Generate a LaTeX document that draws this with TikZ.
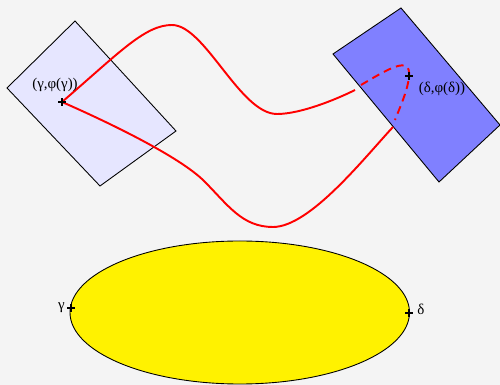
\documentclass[tikz,border=0pt]{standalone}
\usepackage{fontspec}
\setmainfont{Liberation Serif}
\definecolor{paper}{HTML}{F4F4F4}
\definecolor{lightplane}{HTML}{E6E6FF}
\definecolor{darkplane}{HTML}{8080FF}
\begin{document}
\begin{tikzpicture}[x=0.02cm, y=0.02cm,
    curve/.style={red, line width=1.1pt},
    hidden/.style={curve, dash pattern=on 4.5pt off 3pt},
    plane/.style={draw=black, line width=0.5pt},
    plus/.style={black, line width=0.9pt},
    lbl/.style={inner sep=0, font=\fontsize{8.5}{10}\selectfont}]
  \fill[paper] (0,0) rectangle (500,385);
  \useasboundingbox (0,0) rectangle (500,385);
  % tangent planes
  \filldraw[plane, fill=lightplane] (75,364) -- (176,254) -- (100,199) -- (7,297) -- cycle;
  \filldraw[plane, fill=darkplane] (401,377) -- (500,260) -- (439,203) -- (333,331) -- cycle;
  % base
  \filldraw[plane, fill=yellow] (239.75,72.5) ellipse [x radius=169.75, y radius=71.5];
  \coordinate (pg) at (62,283);
  \coordinate (pd) at (409,309);
  \coordinate (g) at (71,77);
  \coordinate (d) at (409,72);
  \coordinate (upend) at (355,295);
  \coordinate (dashin) at (361,300);
  \coordinate (dashout) at (395,265);
  \coordinate (lowin) at (393,258);
  % lifted loop
  \draw[curve] (pg) .. controls (120,333) and (145,360) .. (172,360)
    .. controls (205,360) and (240,271) .. (277,271)
    .. controls (300,271) and (335,285) .. (upend);
  \draw[hidden] (dashin) .. controls (388,316) and (411,330) .. (pd)
    .. controls (408,295) and (400,278) .. (dashout);
  \draw[curve] (lowin) .. controls (365,228) and (310,158) .. (273,158)
    .. controls (242,158) and (228,180) .. (204,204)
    .. controls (180,228) and (110,262) .. (pg);
  % points
  \foreach \p in {pg,pd,g,d}
    \draw[plus] (\p) +(-4,0) -- +(4,0) +(0,-4) -- +(0,4);
  \node[lbl] (pglabel) at (55,300) {(γ,φ(γ))};
  \node[lbl] (pdlabel) at (442,296) {(δ,φ(δ))};
  \node[lbl, anchor=east] (glabel) at (65,77) {γ};
  \node[lbl, anchor=west] (dlabel) at (417,76) {δ};
\end{tikzpicture}
\end{document}
